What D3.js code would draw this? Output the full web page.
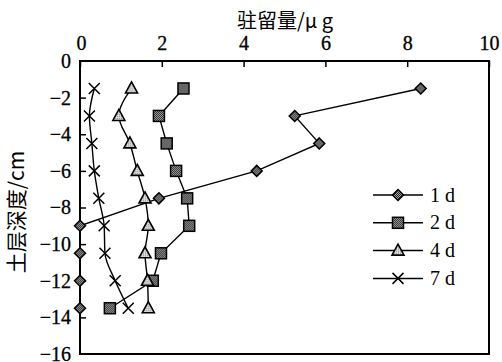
<!DOCTYPE html>
<html>
<head>
<meta charset="utf-8">
<script src="https://d3js.org/d3.v7.min.js"></script>
<style>
  body { margin: 0; background: #fff; }
  svg { display: block; }
</style>
</head>
<body>
<svg id="chart" width="502" height="362"></svg>
<script>
// depth of each sample layer (cm)
const depths = [-1.5, -3, -4.5, -6, -7.5, -9, -10.5, -12, -13.5];

// residual amount (µg) per day
const d1 = [8.33, 5.25, 5.85, 4.32, 1.93, 0, 0, 0, 0];
const d2 = [2.53, 1.93, 2.12, 2.35, 2.62, 2.67, 1.98, 1.78, 0.73];
const d4 = [1.26, 0.95, 1.22, 1.40, 1.59, 1.67, 1.59, 1.65, 1.67];
const d7 = [0.35, 0.23, 0.29, 0.35, 0.46, 0.59, 0.61, 0.86, 1.18];

const seriesNames = ['1 d', '2 d', '4 d', '7 d'];
const markers = ['diamond', 'square', 'triangle', 'cross'];

const xTicks = [0, 2, 4, 6, 8, 10];
const yTicks = [0, -2, -4, -6, -8, -10, -12, -14, -16];

const serif = '"Liberation Serif", "DejaVu Serif", serif';
const cjk = '"Noto Sans CJK SC", sans-serif';

const margin = {top: 61, right: 13, bottom: 8, left: 80};
const width = 502 - margin.left - margin.right;
const height = 362 - margin.top - margin.bottom;

const svg = d3.select('#chart');

// halftone fill for the markers
const defs = svg.append('defs');
const pat = defs.append('pattern')
  .attr('id', 'dots')
  .attr('width', 2).attr('height', 2)
  .attr('patternUnits', 'userSpaceOnUse');
pat.append('rect').attr('width', 2).attr('height', 2).attr('fill', '#222');
pat.append('rect').attr('width', 1).attr('height', 1).attr('fill', '#aaa');
pat.append('rect').attr('x', 1).attr('y', 1).attr('width', 1).attr('height', 1).attr('fill', '#aaa');

const pat2 = defs.append('pattern')
  .attr('id', 'light')
  .attr('width', 2).attr('height', 2)
  .attr('patternUnits', 'userSpaceOnUse');
pat2.append('rect').attr('width', 2).attr('height', 2).attr('fill', '#ddd');
pat2.append('rect').attr('width', 1).attr('height', 1).attr('fill', '#888');

const g = svg.append('g')
  .attr('transform', `translate(${margin.left}, ${margin.top})`);

const x = d3.scaleLinear().domain([0, 10]).range([0, width]);
const y = d3.scaleLinear().domain([0, -16]).range([0, height]);

// frame
g.append('rect')
  .attr('width', width)
  .attr('height', height)
  .attr('fill', 'none')
  .attr('stroke', '#000')
  .attr('stroke-width', 2);

// x axis on top, ticks pointing inward
const xAxis = g.append('g')
  .call(d3.axisTop(x).tickValues(xTicks).tickSize(-6).tickPadding(11).tickFormat(d3.format('d')));
xAxis.select('.domain').remove();
xAxis.selectAll('line').attr('stroke-width', 1.5);
xAxis.selectAll('text')
  .style('font-family', serif).style('font-size', '20px').style('fill', '#000')
  .style('stroke', '#000').style('stroke-width', 0.3);
xAxis.selectAll('.tick').filter(d => d === 0).select('text').attr('dx', '1px');

// y axis, ticks pointing inward
const yAxis = g.append('g')
  .call(d3.axisLeft(y).tickValues(yTicks).tickSize(-6).tickPadding(9)
    .tickFormat(d => d === 0 ? '0' : '\u2212' + Math.abs(d)));
yAxis.select('.domain').remove();
yAxis.selectAll('line').attr('stroke-width', 1.5);
yAxis.selectAll('line').filter(d => d === 0 || d === -16).remove();
yAxis.selectAll('text')
  .style('font-family', serif).style('font-size', '20px').style('fill', '#000')
  .style('stroke', '#000').style('stroke-width', 0.3);

// titles
svg.append('text')
  .attr('x', 285).attr('y', 28)
  .attr('text-anchor', 'middle')
  .style('font-family', cjk).style('font-size', '20px')
  .text('驻留量/μ g');

svg.append('text')
  .attr('transform', 'translate(24, 212) rotate(-90)')
  .attr('text-anchor', 'middle')
  .style('font-family', cjk).style('font-size', '21px')
  .text('土层深度/cm');

const allSeries = [d1, d2, d4, d7];

function drawMarker(sel, type) {
  if (type === 'diamond') {
    sel.append('path')
      .attr('d', 'M0,-5.5L5.5,0L0,5.5L-5.5,0Z')
      .attr('fill', 'url(#dots)').attr('stroke', '#000').attr('stroke-width', 1.5);
  } else if (type === 'square') {
    sel.append('rect')
      .attr('x', -5.5).attr('y', -5.5).attr('width', 11).attr('height', 11)
      .attr('fill', 'url(#dots)').attr('stroke', '#000').attr('stroke-width', 1.5);
  } else if (type === 'triangle') {
    sel.append('path')
      .attr('d', 'M0,-6.5L6,4.5L-6,4.5Z')
      .attr('fill', 'url(#light)').attr('stroke', '#000').attr('stroke-width', 1.6);
  } else {
    sel.append('path')
      .attr('d', 'M-5.5,-5.5L5.5,5.5M5.5,-5.5L-5.5,5.5')
      .attr('fill', 'none').attr('stroke', '#000').attr('stroke-width', 1.5);
  }
}

allSeries.forEach((vals, i) => {
  const pts = vals.map((v, j) => ({v: v, d: depths[j]}));
  const line = d3.line()
    .x(p => x(p.v))
    .y(p => y(p.d))
    .curve(i >= 2 ? d3.curveMonotoneY : d3.curveLinear);

  g.append('path')
    .datum(pts)
    .attr('d', line)
    .attr('fill', 'none')
    .attr('stroke', '#000')
    .attr('stroke-width', 1.4);

  g.selectAll('.m' + i)
    .data(pts)
    .enter().append('g')
      .attr('class', 'm' + i)
      .attr('transform', p => `translate(${x(p.v)}, ${y(p.d)})`)
      .each(function() { drawMarker(d3.select(this), markers[i]); });
});

// legend
const legend = svg.append('g').attr('transform', 'translate(373, 195)');
seriesNames.forEach((name, i) => {
  const row = legend.append('g').attr('transform', `translate(0, ${i * 27.8})`);
  row.append('line')
    .attr('x1', 0).attr('x2', 50)
    .attr('stroke', '#000').attr('stroke-width', 1.5);
  const m = row.append('g').attr('transform', 'translate(25, 0)');
  drawMarker(m, markers[i]);
  row.append('text')
    .attr('x', 57).attr('y', 6.5)
    .style('font-family', serif).style('font-size', '20px')
    .text(name);
});
</script>
</body>
</html>
